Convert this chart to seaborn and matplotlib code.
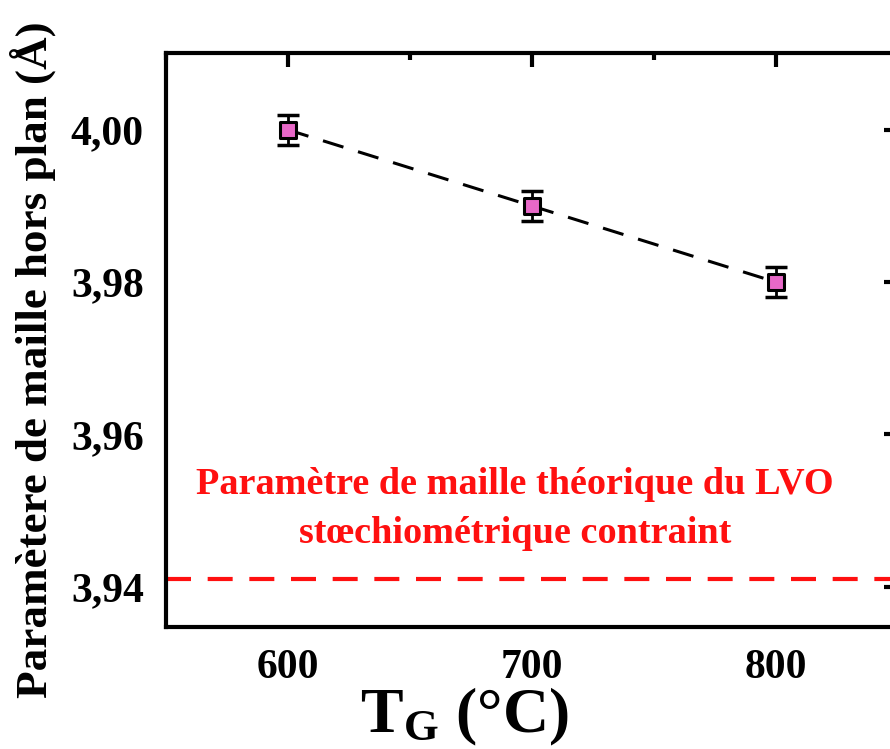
import matplotlib
matplotlib.use('Agg')
import matplotlib.pyplot as plt
from matplotlib.ticker import MultipleLocator, FixedLocator
import seaborn as sns
import pandas as pd

# --- data ---
temps = [600, 700, 800]
lattice = [4.000, 3.990, 3.980]
lattice_err = [0.002, 0.002, 0.002]
theory_value = 3.941
ytick_values = [3.94, 3.96, 3.98, 4.00]
ytick_labels = ['3,94', '3,96', '3,98', '4,00']
xtick_values = [600, 700, 800]
note_text = 'Paramètre de maille théorique du LVO\nstœchiométrique contraint'

df = pd.DataFrame({'T': temps, 'c': lattice, 'err': lattice_err})

sns.set_style('white')
plt.rcParams['font.family'] = ['Liberation Serif', 'DejaVu Serif']
plt.rcParams['font.weight'] = 'bold'
plt.rcParams['text.color'] = 'black'
plt.rcParams['axes.labelcolor'] = 'black'
plt.rcParams['xtick.color'] = 'black'
plt.rcParams['ytick.color'] = 'black'
plt.rcParams['mathtext.fontset'] = 'custom'
plt.rcParams['mathtext.rm'] = 'Liberation Serif:bold'
plt.rcParams['mathtext.it'] = 'Liberation Serif:bold'
plt.rcParams['mathtext.bf'] = 'Liberation Serif:bold'

fig = plt.figure(figsize=(8.9, 7.49), dpi=100)
ax = fig.add_axes([0.1865, 0.1629, 0.8225, 0.7664])

# dashed linear trend
sns.lineplot(data=df, x='T', y='c', ax=ax, color='black', linewidth=2.2,
             dashes=False, zorder=2)
ax.lines[-1].set_dashes([7, 5])

# theoretical value
ax.axhline(theory_value, color='#ff1010', linewidth=3, dashes=(6, 4), zorder=1)

# error bars + markers
ax.errorbar(df['T'], df['c'], yerr=df['err'], fmt='none', ecolor='black',
            elinewidth=2, capsize=8, capthick=2.5, zorder=3)
sns.scatterplot(data=df, x='T', y='c', ax=ax, marker='s', s=120,
                color='#e868c8', edgecolor='black', linewidth=2.2, zorder=4)

ax.text(693, 3.9502, note_text, color='#ff1010', fontsize=27.5,
        fontweight='bold', ha='center', va='center', linespacing=1.5)

ax.set_xlim(550, 850)
ax.set_ylim(3.9347, 4.0101)
ax.xaxis.set_major_locator(FixedLocator(xtick_values))
ax.xaxis.set_minor_locator(MultipleLocator(50))
ax.yaxis.set_major_locator(FixedLocator(ytick_values))
ax.set_yticklabels(ytick_labels)
ax.set_xticklabels([str(v) for v in xtick_values])

ax.tick_params(axis='both', which='major', direction='out', length=10,
               width=3, labelsize=30, pad=6)
ax.tick_params(axis='x', which='minor', direction='out', length=5, width=3)
ax.tick_params(which='both', top=True, right=True)
for t in ax.xaxis.get_major_ticks() + ax.xaxis.get_minor_ticks():
    t.tick2line.set_marker(3)  # inward on top
for t in ax.yaxis.get_major_ticks():
    t.tick2line.set_marker(0)  # inward on right
for sp in ax.spines.values():
    sp.set_linewidth(3)
    sp.set_color('black')

for lab in ax.get_xticklabels() + ax.get_yticklabels():
    lab.set_fontweight('bold')

ax.set_xlabel(r'T$_{\rm G}$ (°C)', fontsize=46, fontweight='bold')
ax.set_ylabel('Paramètere de maille hors plan (Å)', fontsize=32.5,
              fontweight='bold')
ax.xaxis.set_label_coords(0.408, -0.103)
ax.yaxis.set_label_coords(-0.150, 0.465)

fig.savefig('out.png', dpi=100)
